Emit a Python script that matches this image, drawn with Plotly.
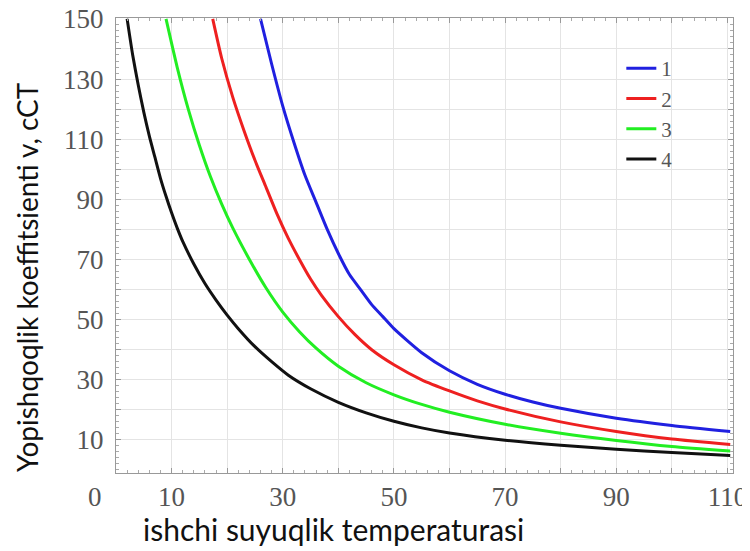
import plotly.graph_objects as go

# ---- data ----
x1 = [26, 28, 30, 32, 34, 36, 38, 40, 42, 44, 46, 48, 50, 55, 60, 65, 70, 75, 80, 90, 100, 110.5]
y1 = [150, 135, 121, 109, 98, 89, 80, 72, 65, 60, 55, 51, 47, 39, 33, 28.5, 25.2, 22.6, 20.5, 17.2, 14.8, 12.8]

x2 = [17.4, 19, 21, 23, 25, 27, 29, 31, 33, 35, 37, 40, 43, 46, 50, 55, 60, 65, 70, 80, 90, 100, 110.5]
y2 = [150, 137, 124, 113, 103, 94, 85, 77, 70, 63.5, 58, 51, 45, 40, 35, 30, 26.3, 23, 20.3, 16, 12.8, 10.3, 8.5]

x3 = [9, 11, 13, 15, 17, 19, 21, 24, 27, 30, 33, 36, 40, 45, 50, 55, 60, 70, 80, 90, 100, 110.5]
y3 = [150, 134, 120, 108, 97.5, 88.5, 80.5, 70, 60.5, 52.5, 46, 40.5, 34.5, 29, 25, 21.8, 19.2, 15.2, 12.2, 9.8, 7.8, 6.3]

x4 = [2, 3, 4, 5, 6, 7, 8, 9, 10, 11, 12, 14, 16, 18, 20, 22, 25, 28, 31, 35, 40, 45, 50, 55, 60, 70, 80, 90, 100, 110.5]
y4 = [150, 138, 128, 119, 111, 104, 97, 91, 85.5, 80.5, 76, 68.5, 62, 56.5, 51.5, 47, 41, 36, 31.5, 27, 22.5, 19, 16.2, 14, 12.3, 9.9, 8.2, 6.9, 5.8, 4.8]

series_names = ["1", "2", "3", "4"]
series_colors = ["#2020e0", "#ee2020", "#22ee22", "#111111"]

x_tickvals = [10, 20, 30, 40, 50, 60, 70, 80, 90, 100, 110]
x_ticktext = ["10", "", "30", "", "50", "", "70", "", "90", "", "110"]
y_tickvals = [10, 20, 30, 40, 50, 60, 70, 80, 90, 100, 110, 120, 130, 140, 150]
y_ticktext = ["10", "", "30", "", "50", "", "70", "", "90", "", "110", "", "130", "", "150"]

x_title = "ishchi suyuqlik temperaturasi"
y_title = "Yopishqoqlik koeffitsienti v, cCT"

fig = go.Figure()
for xs, ys, nm, col in zip([x1, x2, x3, x4], [y1, y2, y3, y4], series_names, series_colors):
    fig.add_trace(go.Scatter(x=xs, y=ys, name=nm, mode="lines",
                             line=dict(color=col, width=3, shape="spline", smoothing=0.6)))

tickfont = dict(family="Liberation Serif", size=27, color="#555555")
axis_common = dict(showline=True, linecolor="#999999", linewidth=1, mirror="allticks",
                   ticks="inside", ticklen=5, tickcolor="#999999",
                   showgrid=True, gridcolor="#e4e4e4", gridwidth=1, zeroline=False,
                   tickfont=tickfont, automargin=False, ticklabeloverflow="allow",
                   minor=dict(dtick=2, ticks="inside", ticklen=3, tickcolor="#aaaaaa", showgrid=False))

# the page body adds an 8px offset; margins compensate so the plot area lands at 116..733 x 18..473
fig.update_layout(
    width=750, height=551,
    margin=dict(l=108, r=25, t=10, b=86),
    plot_bgcolor="white", paper_bgcolor="white",
    showlegend=True,
    legend=dict(x=0.819, y=0.934, xanchor="left", yanchor="top",
                bgcolor="rgba(0,0,0,0)", font=dict(family="Liberation Serif", size=21, color="#555555"),
                tracegroupgap=0, itemwidth=30),
    xaxis=dict(range=[0, 111], tickmode="array", tickvals=x_tickvals, ticktext=x_ticktext,
               ticklabelstandoff=0, **axis_common),
    yaxis=dict(range=[-1, 150.3], tickmode="array", tickvals=y_tickvals, ticktext=y_ticktext,
               ticklabelstandoff=6, **axis_common),
)

fig.add_annotation(text="0", xref="paper", yref="paper", x=(95 - 116) / 617, y=-(497 - 473) / 455,
                   showarrow=False, font=tickfont, xanchor="center", yanchor="middle")
fig.add_annotation(text=x_title, xref="paper", yref="paper", x=(333 - 116) / 617, y=-(529 - 473) / 455,
                   showarrow=False, font=dict(family="Lato", size=30, color="#111111"),
                   xanchor="center", yanchor="middle")
fig.add_annotation(text=y_title, xref="paper", yref="paper", x=(27 - 116) / 617, y=1 - (277 - 18) / 455,
                   textangle=-90, showarrow=False, font=dict(family="Lato", size=28, color="#111111"),
                   xanchor="center", yanchor="middle")

fig.write_html("out.html")
